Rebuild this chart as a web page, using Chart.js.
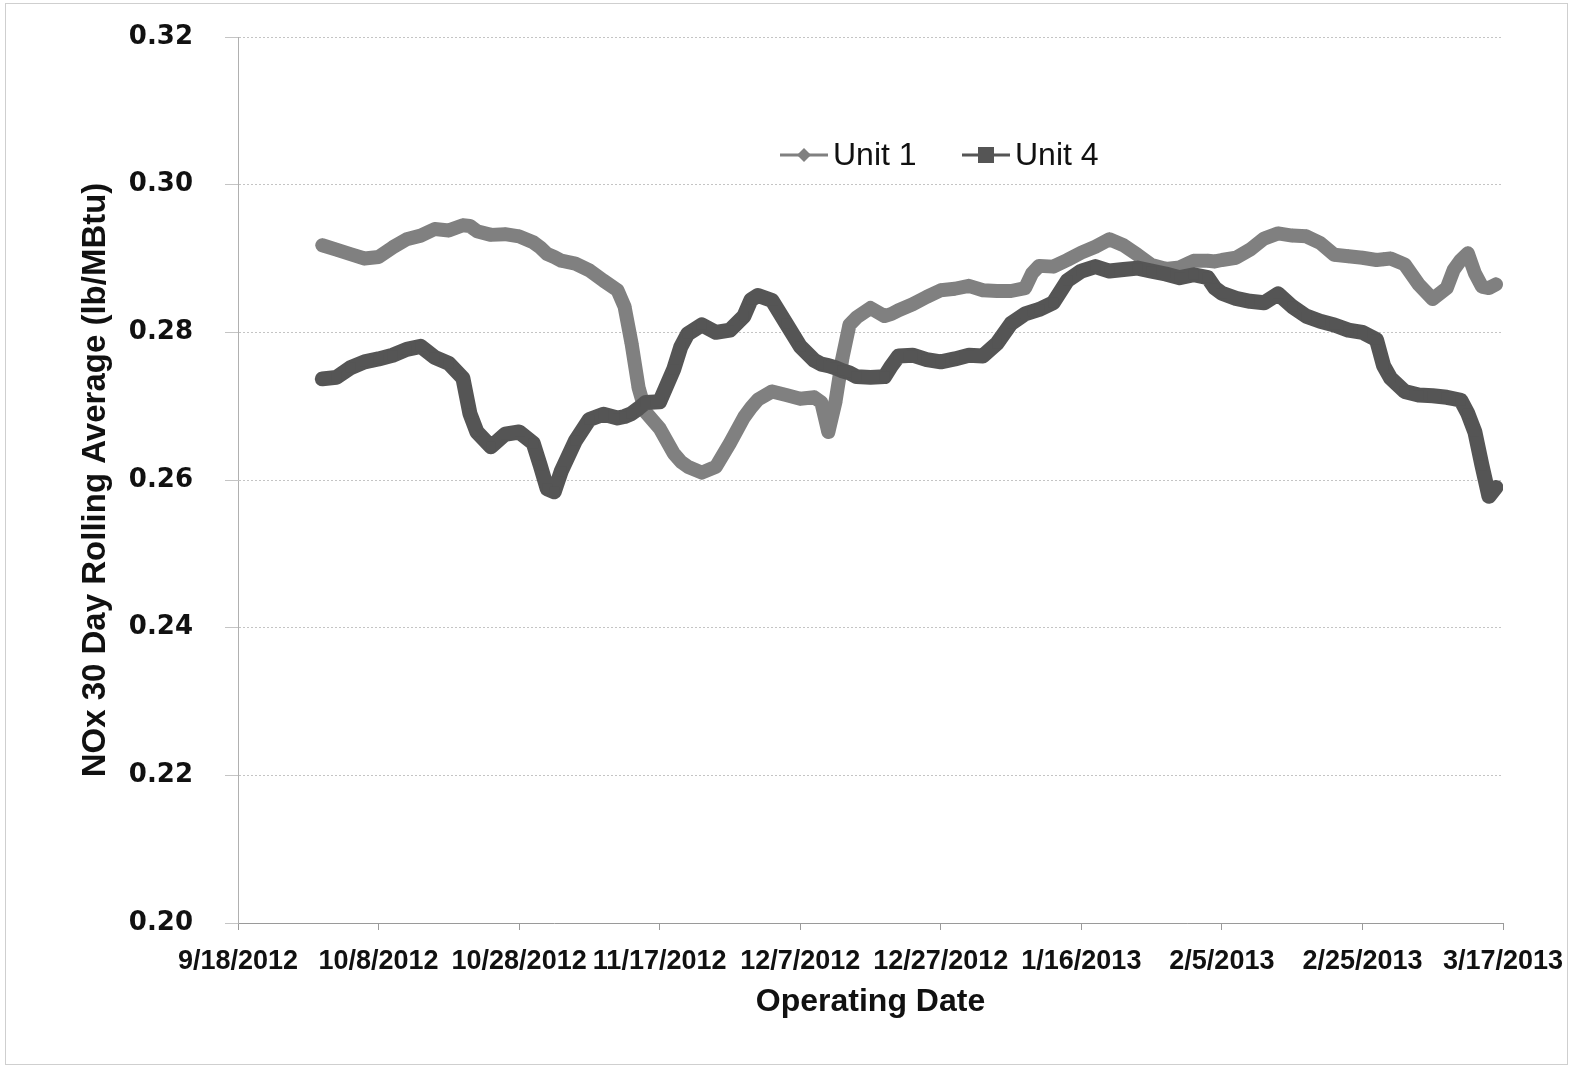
<!DOCTYPE html>
<html>
<head>
<meta charset="utf-8">
<title>NOx 30 Day Rolling Average</title>
<script src="https://cdn.jsdelivr.net/npm/chart.js@4.4.1/dist/chart.umd.min.js"></script>
<style>
  html, body { margin: 0; padding: 0; background: #fff; }
  #wrap { width: 1574px; height: 1069px; }
</style>
</head>
<body>
<div id="wrap"><canvas id="nox-chart" width="1574" height="1069"></canvas></div>
<script>
/* ---- data ---- */
const operatingDates = [
  '9/30/2012', '10/2/2012', '10/4/2012', '10/6/2012', '10/8/2012', '10/10/2012',
  '10/12/2012', '10/14/2012', '10/16/2012', '10/18/2012', '10/20/2012', '10/21/2012',
  '10/22/2012', '10/24/2012', '10/26/2012', '10/28/2012', '10/30/2012', '10/31/2012',
  '11/1/2012', '11/2/2012', '11/3/2012', '11/5/2012', '11/7/2012', '11/9/2012',
  '11/11/2012', '11/12/2012', '11/13/2012', '11/14/2012', '11/15/2012', '11/17/2012',
  '11/19/2012', '11/20/2012', '11/21/2012', '11/23/2012', '11/25/2012', '11/27/2012',
  '11/29/2012', '11/30/2012', '12/1/2012', '12/3/2012', '12/5/2012', '12/7/2012',
  '12/9/2012', '12/10/2012', '12/11/2012', '12/12/2012', '12/13/2012', '12/14/2012',
  '12/15/2012', '12/17/2012', '12/19/2012', '12/20/2012', '12/21/2012', '12/23/2012',
  '12/25/2012', '12/27/2012', '12/29/2012', '12/31/2012', '1/2/2013', '1/4/2013',
  '1/6/2013', '1/8/2013', '1/9/2013', '1/10/2013', '1/12/2013', '1/14/2013',
  '1/16/2013', '1/18/2013', '1/20/2013', '1/22/2013', '1/24/2013', '1/26/2013',
  '1/28/2013', '1/30/2013', '2/1/2013', '2/3/2013', '2/4/2013', '2/5/2013',
  '2/7/2013', '2/9/2013', '2/11/2013', '2/13/2013', '2/15/2013', '2/17/2013',
  '2/19/2013', '2/21/2013', '2/23/2013', '2/25/2013', '2/27/2013', '2/28/2013',
  '3/1/2013', '3/3/2013', '3/5/2013', '3/7/2013', '3/9/2013', '3/10/2013',
  '3/11/2013', '3/12/2013', '3/13/2013', '3/14/2013', '3/15/2013', '3/16/2013'
];

const unit1 = [
  0.2918, 0.2912, 0.2906, 0.2900, 0.2902, 0.2915,
  0.2926, 0.2931, 0.2940, 0.2938, 0.2945, 0.2944,
  0.2937, 0.2932, 0.2933, 0.2930, 0.2922, 0.2915,
  0.2906, 0.2902, 0.2897, 0.2893, 0.2884, 0.2870,
  0.2857, 0.2835, 0.2785, 0.2725, 0.2692, 0.2670,
  0.2636, 0.2625, 0.2618, 0.2610, 0.2618, 0.2650,
  0.2685, 0.2698, 0.2709, 0.2720, 0.2715, 0.2710,
  0.2712, 0.2705, 0.2665, 0.2705, 0.2765, 0.2810,
  0.2820, 0.2833, 0.2822, 0.2825, 0.2830, 0.2838,
  0.2848, 0.2857, 0.2859, 0.2863, 0.2857, 0.2856,
  0.2856, 0.2860, 0.2880, 0.2890, 0.2889, 0.2898,
  0.2908, 0.2916, 0.2926, 0.2918, 0.2905, 0.2891,
  0.2886, 0.2888, 0.2897, 0.2897, 0.2896, 0.2898,
  0.2901, 0.2912, 0.2927, 0.2934, 0.2931, 0.2930,
  0.2921, 0.2905, 0.2903, 0.2901, 0.2898, 0.2899,
  0.2900, 0.2892, 0.2865, 0.2845, 0.2860, 0.2885,
  0.2898, 0.2907, 0.2880, 0.2862, 0.2860, 0.2865
];

const unit4 = [
  0.2737, 0.2739, 0.2752, 0.2760, 0.2764, 0.2769,
  0.2777, 0.2781, 0.2766, 0.2758, 0.2738, 0.2690,
  0.2665, 0.2645, 0.2662, 0.2665, 0.2650, 0.2620,
  0.2588, 0.2584, 0.2612, 0.2653, 0.2682, 0.2689,
  0.2684, 0.2686, 0.2690, 0.2697, 0.2705, 0.2706,
  0.2750, 0.2780, 0.2798, 0.2810, 0.2800, 0.2803,
  0.2822, 0.2844, 0.2850, 0.2843, 0.2812, 0.2781,
  0.2762, 0.2757, 0.2755, 0.2752, 0.2748, 0.2745,
  0.2740, 0.2739, 0.2740, 0.2755, 0.2768, 0.2769,
  0.2763, 0.2760, 0.2764, 0.2769, 0.2768, 0.2785,
  0.2812, 0.2825, 0.2828, 0.2831, 0.2840, 0.2870,
  0.2883, 0.2889, 0.2883, 0.2885, 0.2887, 0.2883,
  0.2879, 0.2874, 0.2878, 0.2874, 0.2860, 0.2853,
  0.2846, 0.2842, 0.2840, 0.2852, 0.2835, 0.2822,
  0.2815, 0.2810, 0.2803, 0.2800, 0.2790, 0.2755,
  0.2738, 0.2720, 0.2715, 0.2714, 0.2712, 0.2710,
  0.2708, 0.2690, 0.2665, 0.2620, 0.2578, 0.2590
];

const dateTicks = [
  '9/18/2012', '10/8/2012', '10/28/2012', '11/17/2012', '12/7/2012',
  '12/27/2012', '1/16/2013', '2/5/2013', '2/25/2013', '3/17/2013'
];

const valueTicks = [0.20, 0.22, 0.24, 0.26, 0.28, 0.30, 0.32];

/* ---- helpers ---- */
function dayNumber(str) {
  const [m, d, y] = str.split('/').map(Number);
  const [m0, d0, y0] = dateTicks[0].split('/').map(Number);
  return Math.round((Date.UTC(y, m - 1, d) - Date.UTC(y0, m0 - 1, d0)) / 86400000);
}

function toPoints(values) {
  return values.map((v, i) => ({ x: dayNumber(operatingDates[i]), y: v }));
}

const UNIT1_COLOR = '#808080';
const UNIT4_COLOR = '#555555';

/* white page with the thin frame round the chart */
const chartFrame = {
  id: 'chartFrame',
  beforeDraw(chart) {
    const ctx = chart.ctx;
    ctx.save();
    ctx.fillStyle = '#fff';
    ctx.fillRect(0, 0, chart.width, chart.height);
    ctx.strokeStyle = '#cfcfcf';
    ctx.lineWidth = 1;
    ctx.strokeRect(5.5, 3.5, chart.width - 12, chart.height - 8);
    ctx.restore();
  }
};

/* legend sits inside the plot, line-and-marker style */
const insideLegend = {
  id: 'insideLegend',
  afterDraw(chart) {
    const ctx = chart.ctx;
    const area = chart.chartArea;
    let x = area.left + 542;
    const y = area.top + 118;
    ctx.save();
    ctx.font = '32px "Liberation Sans", Arial, sans-serif';
    ctx.textBaseline = 'middle';
    chart.data.datasets.forEach(ds => {
      ctx.strokeStyle = ds.borderColor;
      ctx.lineWidth = 3;
      ctx.beginPath();
      ctx.moveTo(x, y);
      ctx.lineTo(x + 48, y);
      ctx.stroke();

      ctx.fillStyle = ds.borderColor;
      const cx = x + 24;
      if (ds.pointStyle === 'rectRot') {
        ctx.beginPath();
        ctx.moveTo(cx, y - 7);
        ctx.lineTo(cx + 7, y);
        ctx.lineTo(cx, y + 7);
        ctx.lineTo(cx - 7, y);
        ctx.closePath();
        ctx.fill();
      } else {
        ctx.fillRect(cx - 8, y - 8, 16, 16);
      }

      ctx.fillStyle = '#111';
      ctx.fillText(ds.label, x + 53, y + 1);
      x += 182;
    });
    ctx.restore();
  }
};

/* ---- chart ---- */
const ctx = document.getElementById('nox-chart');

new Chart(ctx, {
  type: 'line',
  data: {
    datasets: [
      {
        label: 'Unit 1',
        data: toPoints(unit1),
        borderColor: UNIT1_COLOR,
        backgroundColor: UNIT1_COLOR,
        borderWidth: 14,
        borderJoinStyle: 'round',
        borderCapStyle: 'round',
        pointStyle: 'rectRot',
        pointRadius: 7,
        pointBorderWidth: 0,
        tension: 0,
        order: 1
      },
      {
        label: 'Unit 4',
        data: toPoints(unit4),
        borderColor: UNIT4_COLOR,
        backgroundColor: UNIT4_COLOR,
        borderWidth: 15,
        borderJoinStyle: 'round',
        borderCapStyle: 'round',
        pointStyle: 'rect',
        pointRadius: 7,
        pointBorderWidth: 0,
        tension: 0,
        order: 0
      }
    ]
  },
  options: {
    responsive: false,
    animation: false,
    devicePixelRatio: 1,
    layout: { padding: { left: 0, top: 37, right: 71, bottom: 0 } },
    plugins: {
      legend: { display: false },
      tooltip: { enabled: false }
    },
    scales: {
      x: {
        type: 'linear',
        min: 0,
        max: 180,
        afterFit: scale => {
          scale.height = 146;
          scale.paddingLeft = 0;
          scale.paddingRight = 0;
        },
        afterBuildTicks: scale => {
          scale.ticks = dateTicks.map(s => ({ value: dayNumber(s) }));
        },
        ticks: {
          autoSkip: false,
          maxRotation: 0,
          padding: 15,
          color: '#111',
          font: { family: '"Liberation Sans", Arial, sans-serif', size: 27, weight: 'bold' },
          callback: value => dateTicks.find(s => dayNumber(s) === value) || ''
        },
        grid: {
          drawOnChartArea: false,
          drawTicks: true,
          tickLength: 7,
          color: '#9a9a9a'
        },
        border: { display: true, color: '#9a9a9a', width: 1 },
        title: {
          display: true,
          text: 'Operating Date',
          color: '#111',
          font: { family: '"Liberation Sans", Arial, sans-serif', size: 32, weight: 'bold' },
          padding: { top: 0, bottom: 48 }
        }
      },
      y: {
        type: 'linear',
        min: 0.20,
        max: 0.32,
        afterFit: scale => {
          scale.width = 238;
          scale.paddingTop = 0;
          scale.paddingBottom = 0;
        },
        afterBuildTicks: scale => {
          scale.ticks = valueTicks.map(v => ({ value: v }));
        },
        ticks: {
          padding: 32,
          color: '#111',
          font: { family: '"DejaVu Sans", sans-serif', size: 26, weight: 'bold' },
          callback: value => Number(value).toFixed(2)
        },
        grid: {
          color: '#c4c4c4',
          lineWidth: 1,
          drawTicks: true,
          tickLength: 13
        },
        border: { display: true, color: '#b0b0b0', width: 1, dash: [2, 2] },
        title: {
          display: true,
          text: 'NOx 30 Day Rolling Average (lb/MBtu)',
          color: '#111',
          font: { family: '"Liberation Sans", Arial, sans-serif', size: 33, weight: 'bold' },
          padding: { top: 76, bottom: 0 }
        }
      }
    }
  },
  plugins: [chartFrame, insideLegend]
});
</script>
</body>
</html>
